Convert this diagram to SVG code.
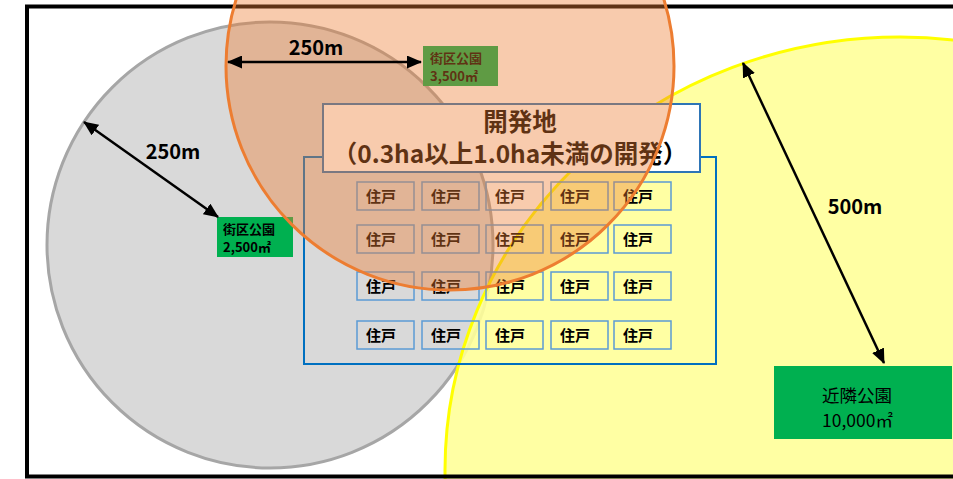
<svg xmlns="http://www.w3.org/2000/svg" width="953" height="479" viewBox="0 0 953 479">
<defs>
<style>
text{font-family:"Noto Sans CJK JP","Noto Sans",sans-serif;fill:#000}
.h rect{fill:none;stroke:#5B9BD5;stroke-width:1.5}
.h text{font-size:15px;font-weight:bold;text-anchor:middle}
.park{fill:#00B050}
.sm{font-size:13px;font-weight:bold}
.dist{font-size:20px;font-weight:bold;text-anchor:middle}
.ttl{font-size:24.5px;font-weight:bold;text-anchor:middle}
.arr{stroke:#000;stroke-width:2.5;fill:none;marker-start:url(#ah);marker-end:url(#ah)}
</style>
<marker id="ah" viewBox="0 0 15 13" refX="14" refY="6.5" markerWidth="15" markerHeight="13" markerUnits="userSpaceOnUse" orient="auto-start-reverse"><path d="M0,0 L15,6.5 L0,13 z" fill="#000"/></marker>
</defs>
<rect x="0" y="0" width="953" height="479" fill="#fff"/>
<rect id="frame-bg" x="27" y="6.5" width="960" height="470" fill="#fff"/>
<g id="circle-gray"><circle cx="270" cy="245" r="223" fill="#D9D9D9" stroke="#A6A6A6" stroke-width="3"/></g>
<g id="circle-yellow"><ellipse cx="900" cy="470" rx="455" ry="433" fill="#FFFF99" fill-opacity="0.9" stroke="#FFFF00" stroke-width="3"/></g>
<rect id="frame" x="27" y="6.5" width="960" height="470" fill="none" stroke="#000" stroke-width="4"/>
<g id="dev-area"><rect x="304" y="157" width="412" height="207" fill="none" stroke="#0070C0" stroke-width="2"/></g>
<g id="houses" class="h">
<g id="h11"><rect x="357" y="182" width="57" height="28"/><text x="381" y="202">住戸</text></g>
<g id="h12"><rect x="422" y="182" width="57" height="28"/><text x="446" y="202">住戸</text></g>
<g id="h13"><rect x="486" y="182" width="57" height="28"/><text x="510" y="202">住戸</text></g>
<g id="h14"><rect x="551" y="182" width="57" height="28"/><text x="575" y="202">住戸</text></g>
<g id="h15"><rect x="614" y="182" width="57" height="28"/><text x="638" y="202">住戸</text></g>
<g id="h21"><rect x="357" y="225" width="57" height="28"/><text x="381" y="245">住戸</text></g>
<g id="h22"><rect x="422" y="225" width="57" height="28"/><text x="446" y="245">住戸</text></g>
<g id="h23"><rect x="486" y="225" width="57" height="28"/><text x="510" y="245">住戸</text></g>
<g id="h24"><rect x="551" y="225" width="57" height="28"/><text x="575" y="245">住戸</text></g>
<g id="h25"><rect x="614" y="225" width="57" height="28"/><text x="638" y="245">住戸</text></g>
<g id="h31"><rect x="357" y="272" width="57" height="28"/><text x="381" y="292">住戸</text></g>
<g id="h32"><rect x="422" y="272" width="57" height="28"/><text x="446" y="292">住戸</text></g>
<g id="h33"><rect x="486" y="272" width="57" height="28"/><text x="510" y="292">住戸</text></g>
<g id="h34"><rect x="551" y="272" width="57" height="28"/><text x="575" y="292">住戸</text></g>
<g id="h35"><rect x="614" y="272" width="57" height="28"/><text x="638" y="292">住戸</text></g>
<g id="h41"><rect x="357" y="321" width="57" height="28"/><text x="381" y="341">住戸</text></g>
<g id="h42"><rect x="422" y="321" width="57" height="28"/><text x="446" y="341">住戸</text></g>
<g id="h43"><rect x="486" y="321" width="57" height="28"/><text x="510" y="341">住戸</text></g>
<g id="h44"><rect x="551" y="321" width="57" height="28"/><text x="575" y="341">住戸</text></g>
<g id="h45"><rect x="614" y="321" width="57" height="28"/><text x="638" y="341">住戸</text></g>
</g>
<g id="title"><rect x="323" y="104" width="377" height="68" fill="#fff" stroke="#2E75B6" stroke-width="2"/>
<text class="ttl" x="520" y="131">開発地</text>
<text class="ttl" x="510" y="163">（0.3ha以上1.0ha未満の開発）</text></g>
<g id="park-3500"><rect class="park" x="423" y="46" width="75" height="40"/><text class="sm" x="430" y="63">街区公園</text><text class="sm" x="430" y="81">3,500㎡</text></g>
<g id="park-2500"><rect class="park" x="217" y="217" width="76" height="40"/><text class="sm" x="223" y="234">街区公園</text><text class="sm" x="223" y="252">2,500㎡</text></g>
<g id="park-10000"><rect class="park" x="774" y="366" width="178" height="73"/><text x="822" y="402" font-size="17.5">近隣公園</text><text x="822" y="427" font-size="17.5">10,000㎡</text></g>
<g id="circle-orange"><circle cx="450" cy="66" r="224" fill="#ED7D31" fill-opacity="0.4" stroke="#ED7D31" stroke-width="3"/></g>
<g id="connectors">
<line class="arr" x1="228" y1="62" x2="421" y2="62"/>
<line class="arr" x1="84" y1="122" x2="218" y2="217"/>
<line class="arr" x1="743" y1="63" x2="884" y2="363"/>
</g>
<text class="dist" x="316" y="55">250m</text>
<text class="dist" x="173" y="159">250m</text>
<text class="dist" x="855" y="214">500m</text>
</svg>
